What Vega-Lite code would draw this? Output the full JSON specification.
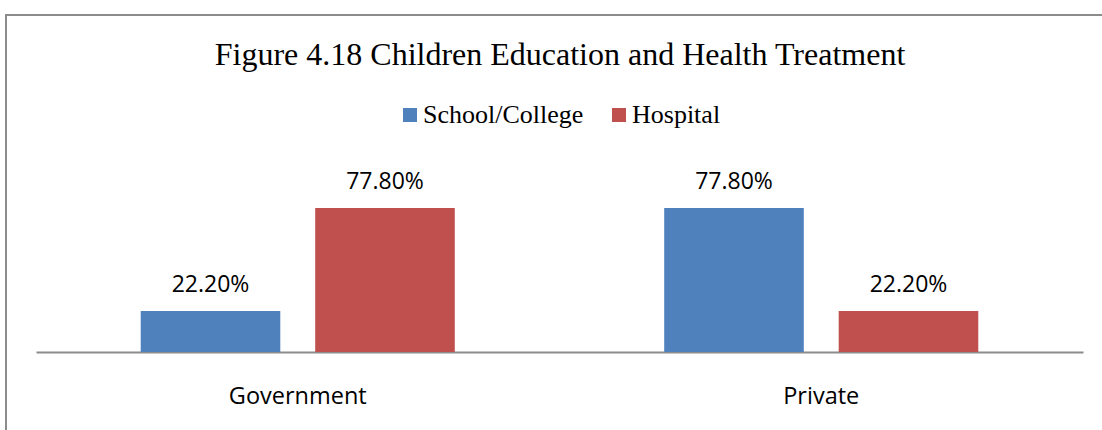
{
  "$schema": "https://vega.github.io/schema/vega-lite/v6.json",
  "width": 1100,
  "height": 420,
  "autosize": {"type": "none"},
  "padding": {"left": 6, "top": 15, "right": 0, "bottom": 0},
  "background": "white",
  "config": {"view": {"stroke": "#8c8c8c", "strokeWidth": 2}},
  "title": {
    "text": "Figure 4.18 Children Education and Health Treatment",
    "font": "Liberation Serif",
    "fontSize": 32,
    "fontWeight": "normal",
    "color": "black",
    "anchor": "middle",
    "baseline": "middle",
    "offset": 0,
    "dy": 72,
    "dx": 4
  },
  "data": {
    "values": [
      {"sector": "Government", "facility": "School/College", "share": 0.222},
      {"sector": "Government", "facility": "Hospital", "share": 0.778},
      {"sector": "Private", "facility": "School/College", "share": 0.778},
      {"sector": "Private", "facility": "Hospital", "share": 0.222}
    ]
  },
  "encoding": {
    "x": {
      "field": "sector",
      "type": "nominal",
      "sort": ["Government", "Private"],
      "scale": {"range": [30, 1077], "paddingInner": 0.4, "paddingOuter": 0.2},
      "axis": {
        "title": null,
        "orient": "bottom",
        "offset": -83,
        "domainColor": "#8c8c8c",
        "domainWidth": 2,
        "ticks": false,
        "labelAngle": 0,
        "labelFont": "Open Sans",
        "labelFontSize": 23.5,
        "labelColor": "black",
        "labelBaseline": "middle",
        "labelPadding": 44
      }
    },
    "xOffset": {
      "field": "facility",
      "type": "nominal",
      "sort": ["School/College", "Hospital"],
      "scale": {"paddingInner": 0.2, "paddingOuter": 0}
    },
    "y": {
      "field": "share",
      "type": "quantitative",
      "scale": {"domain": [0, 1], "range": [337, 152]},
      "axis": null
    }
  },
  "layer": [
    {
      "mark": {"type": "bar"},
      "encoding": {
        "color": {
          "field": "facility",
          "type": "nominal",
          "sort": ["School/College", "Hospital"],
          "scale": {"domain": ["School/College", "Hospital"], "range": ["#4F81BD", "#C0504D"]},
          "legend": {
            "title": null,
            "orient": "none",
            "direction": "horizontal",
            "legendX": 391,
            "legendY": 87,
            "symbolType": "square",
            "symbolSize": 196,
            "symbolStrokeWidth": 0,
            "labelFont": "Liberation Serif",
            "labelFontSize": 26,
            "labelColor": "black",
            "labelOffset": 0,
            "labelLimit": 400,
            "columnPadding": 22,
            "padding": 0
          }
        }
      }
    },
    {
      "mark": {"type": "text", "baseline": "alphabetic", "dy": -19, "font": "Open Sans", "fontSize": 23, "color": "black"},
      "encoding": {"text": {"field": "share", "type": "quantitative", "format": ".2%"}}
    }
  ]
}
